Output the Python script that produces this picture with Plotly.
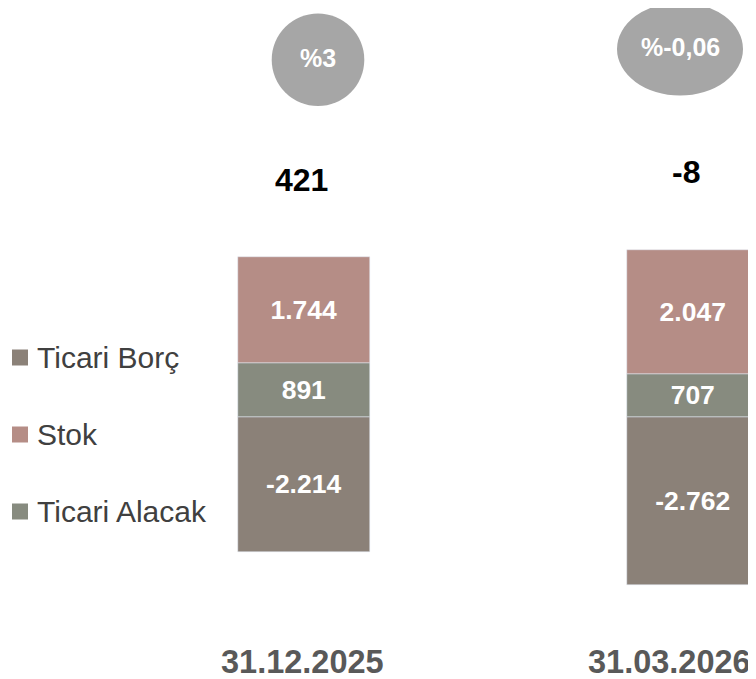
import plotly.graph_objects as go

categories = ["31.12.2025", "31.03.2026"]
ticari_borc = [-2214, -2762]
ticari_alacak = [891, 707]
stok = [1744, 2047]
ratio_labels = ["%3", "%-0,06"]

def fmt(v):
    return f"{v:,}".replace(",", ".")

net = [a + b + c for a, b, c in zip(ticari_borc, ticari_alacak, stok)]

COL_BORC = "#8B8178"
COL_STOK = "#B58D86"
COL_ALACAK = "#878B7F"
FONT = "Liberation Sans, Arial, sans-serif"

OFF = 8  # default page body margin
W, H = 756, 679

xs = list(range(len(categories)))
bar_w = 0.337
lab_font = dict(family=FONT, size=26.5, color="white")

fig = go.Figure()
# stacking order: Borç (negative), Alacak, Stok
series = [
    ("Ticari Borç", ticari_borc, COL_BORC),
    ("Ticari Alacak", ticari_alacak, COL_ALACAK),
    ("Stok", stok, COL_STOK),
]
for name, vals, col in series:
    fig.add_trace(go.Bar(x=xs, y=vals, name=name, marker_color=col, width=bar_w,
                         text=[fmt(v) for v in vals], texttemplate="<b>%{text}</b>",
                         textposition="inside", insidetextanchor="middle",
                         textfont=lab_font, showlegend=False, hoverinfo="skip"))

upp = 16.45  # value units per pixel
def ypix(p):
    return (417 - p) * upp

xpp = 1 / 389.0

circ = [(14 * xpp, ypix(59.7), 46.3 * xpp, 46.3 * upp),
        (1 - 13 * xpp, ypix(49), 63 * xpp, 46.5 * upp)]
for (cx, cy, rx, ry), lab in zip(circ, ratio_labels):
    fig.add_shape(type="circle", xref="x", yref="y", x0=cx - rx, x1=cx + rx,
                  y0=cy - ry, y1=cy + ry, fillcolor="#A6A6A6", line_width=0, layer="below")
    fig.add_annotation(x=cx, y=cy + 2 * upp, text=f"<b>{lab}</b>", showarrow=False,
                       font=dict(family=FONT, size=25, color="white"))

net_pos = [(xs[0] - 3 * xpp, ypix(180)), (xs[1] - 7 * xpp, ypix(172))]
for (nx, ny), v in zip(net_pos, net):
    fig.add_annotation(x=nx, y=ny, text=f"<b>{fmt(v)}</b>", showarrow=False,
                       font=dict(family=FONT, size=32, color="black"))

date_pos = [xs[0] - 2 * xpp, xs[1] - 24 * xpp]
for dx, c in zip(date_pos, categories):
    fig.add_annotation(x=dx, y=ypix(662), text=f"<b>{c}</b>", showarrow=False,
                       font=dict(family=FONT, size=32.5, color="#595959"))

# legend (drawn as paper-anchored items: Borç, Stok, Alacak)
legend_items = [("Ticari Borç", COL_BORC), ("Stok", COL_STOK), ("Ticari Alacak", COL_ALACAK)]
for i, (name, col) in enumerate(legend_items):
    cyp = 357.5 + i * 77 - OFF  # figure pixel of item centre
    fig.add_shape(type="rect", xref="paper", yref="paper",
                  x0=(12 - OFF) / W, x1=(28 - OFF) / W,
                  y0=1 - (cyp + 8) / H, y1=1 - (cyp - 8) / H,
                  fillcolor=col, line_width=0)
    fig.add_annotation(xref="paper", yref="paper", x=(35 - OFF) / W, y=1 - cyp / H,
                       xanchor="left", yanchor="middle", text=name, showarrow=False,
                       font=dict(family=FONT, size=30, color="#404040"))

fig.update_layout(
    width=W, height=H,
    margin=dict(l=0, r=0, t=0, b=0),
    paper_bgcolor="white", plot_bgcolor="white",
    barmode="relative", bargap=0,
    showlegend=False,
    xaxis=dict(range=[(OFF - 304) * xpp, (OFF + W - 304) * xpp], visible=False, fixedrange=True),
    yaxis=dict(range=[ypix(OFF + H), ypix(OFF)], visible=False, fixedrange=True),
)

fig.write_html("out.html")
